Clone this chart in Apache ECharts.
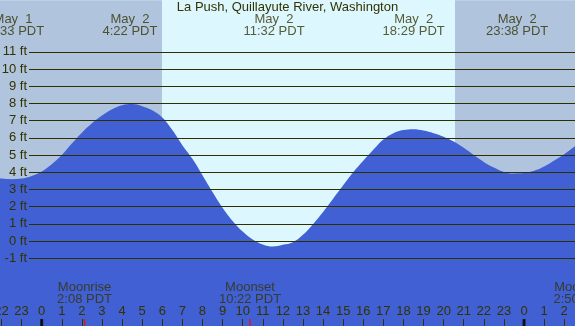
<!DOCTYPE html>
<html>
<head>
<meta charset="utf-8">
<script src="https://cdn.jsdelivr.net/npm/echarts@6/dist/echarts.min.js"></script>
<style>
html,body{margin:0;padding:0;background:#ddf7ff;}
#chart{width:575px;height:326px;}
</style>
</head>
<body>
<div id="chart"></div>
<script>
// ---- data (hours measured from May 2 00:00 PDT, read every half hour) ----
const titleText = 'La Push, Quillayute River, Washington';
const tideHours = [-3, -2.5, -2, -1.5, -1, -0.5, 0, 0.5, 1, 1.5, 2, 2.5, 3, 3.5, 4, 4.5, 5, 5.5, 6, 6.5, 7, 7.5, 8, 8.5, 9, 9.5, 10, 10.5, 11, 11.5, 12, 12.5, 13, 13.5, 14, 14.5, 15, 15.5, 16, 16.5, 17, 17.5, 18, 18.5, 19, 19.5, 20, 20.5, 21, 21.5, 22, 22.5, 23, 23.5, 24, 24.5, 25, 25.5, 26, 26.5, 27];
const tideFeet  = [3.85, 3.72, 3.63, 3.6, 3.63, 3.78, 4.05, 4.47, 5.0, 5.67, 6.3, 6.85, 7.3, 7.66, 7.9, 7.96, 7.84, 7.6, 7.18, 6.45, 5.57, 4.78, 3.83, 2.85, 1.94, 1.17, 0.55, 0.09, -0.2, -0.32, -0.22, -0.07, 0.36, 0.98, 1.69, 2.46, 3.24, 4.0, 4.67, 5.3, 5.9, 6.27, 6.45, 6.5, 6.42, 6.27, 6.07, 5.78, 5.42, 5.0, 4.6, 4.27, 4.02, 3.93, 3.95, 4.08, 4.33, 4.68, 5.05, 5.48, 5.9];
const tideEventDays  = [1, 2, 2, 2, 2];
const tideEventTimes = ['22:33', '4:22', '11:32', '18:29', '23:38'];
const moonEventNames = ['Moonrise', 'Moonset', 'Moonrise'];
const moonEventDays  = [2, 2, 3];
const moonEventTimes = ['2:08', '10:22', '2:50'];
const sunriseTime = '5:59';
const sunsetTime  = '20:34';
const midnightHours = [0, 24];
const yTicksFt = [-1, 11];
const xRangeHours = [-3, 27];

function toHours(day, t) {
  const p = t.split(':');
  return (day - 2) * 24 + Number(p[0]) + Number(p[1]) / 60;
}
const tideEventHours = tideEventTimes.map((t, i) => toHours(tideEventDays[i], t));
const moonEventHours = moonEventTimes.map((t, i) => toHours(moonEventDays[i], t));
const sunriseH = toHours(2, sunriseTime);
const sunsetH = toHours(2, sunsetTime);

const TEXT = '#333300';
const FONT = '"Liberation Sans", Arial, sans-serif';
const WATER = '#4160d4';
const NIGHT = '#b0c4de';
const DAY = '#ddf7ff';

const chart = echarts.init(document.getElementById('chart'), null, {renderer: 'canvas'});
const option = {
  backgroundColor: DAY,
  animation: false,
  textStyle: {fontFamily: FONT},
  title: {
    text: titleText, left: 'center', top: 1, padding: 0,
    textStyle: {fontFamily: FONT, fontSize: 13, fontWeight: 'normal', color: TEXT}
  },
  grid: [
    {left: -18.59, right: -9.3, top: 0.18, bottom: -1.1, containLabel: false, outerBoundsMode: 'none'},
    {left: 29, right: 0, top: 51.8, bottom: 67.7, containLabel: false, outerBoundsMode: 'none'}
  ],
  xAxis: [
    {
      type: 'value', gridIndex: 0, min: xRangeHours[0], max: xRangeHours[1], interval: 1, z: 5,
      position: 'bottom',
      axisLine: {show: false, onZero: false},
      axisTick: {show: true, inside: true, length: 8, lineStyle: {color: TEXT, width: 1}},
      axisLabel: {
        inside: true, margin: 9, color: TEXT, fontSize: 13, fontFamily: FONT,
        showMinLabel: true, showMaxLabel: true, hideOverlap: false,
        formatter: v => String(((v % 24) + 24) % 24)
      },
      splitLine: {show: false}
    },
    {type: 'value', gridIndex: 1, min: 0, max: 1, show: false, axisLine: {onZero: false}}
  ],
  yAxis: [
    {type: 'value', gridIndex: 0, min: -5, max: 14, show: false, splitLine: {show: false}, axisLine: {onZero: false}},
    {
      type: 'value', gridIndex: 1, min: yTicksFt[0], max: yTicksFt[1], interval: 1, z: 5,
      axisLine: {show: false, onZero: false}, axisTick: {show: false},
      axisLabel: {margin: 2, color: TEXT, fontSize: 13, fontFamily: FONT, formatter: v => v + ' ft'},
      splitLine: {show: true, lineStyle: {color: '#2e2e00', width: 1}}
    }
  ],
  series: [
    {
      name: 'tide', type: 'line', xAxisIndex: 0, yAxisIndex: 0,
      data: tideHours.map((h, i) => [h, tideFeet[i]]),
      smooth: 0.4, symbol: 'none', silent: true,
      lineStyle: {width: 0, opacity: 0},
      areaStyle: {color: WATER, opacity: 1, origin: 'start'},
      z: 3,
      markArea: {
        silent: true,
        itemStyle: {color: NIGHT, opacity: 1},
        data: [
          [{xAxis: xRangeHours[0]}, {xAxis: sunriseH}],
          [{xAxis: sunsetH}, {xAxis: xRangeHours[1]}]
        ]
      }
    },
    {
      name: 'midnight', type: 'scatter', xAxisIndex: 0, yAxisIndex: 0, silent: true, z: 6,
      data: midnightHours.map(h => [h, -5]),
      symbol: 'rect', symbolSize: [3, 8], symbolOffset: [0, -4],
      itemStyle: {color: '#000000'}
    },
    {
      name: 'moonTicks', type: 'scatter', xAxisIndex: 0, yAxisIndex: 0, silent: true, z: 6,
      data: moonEventHours.map(h => [h, -5]),
      symbol: 'rect', symbolSize: [1.5, 8], symbolOffset: [0, -4],
      itemStyle: {color: '#ff0000'}
    },
    {
      name: 'tideLabels', type: 'scatter', xAxisIndex: 0, yAxisIndex: 0, silent: true, z: 6,
      data: tideEventHours.map(h => [h, 14]),
      symbolSize: 1, itemStyle: {color: 'rgba(0,0,0,0)'},
      label: {
        show: true, position: 'inside', offset: [0.5, 25.5],
        color: TEXT, fontSize: 13, lineHeight: 12, fontFamily: FONT, align: 'center',
        formatter: p => 'May  ' + tideEventDays[p.dataIndex] + '\n' + tideEventTimes[p.dataIndex] + ' PDT'
      }
    },
    {
      name: 'moonLabels', type: 'scatter', xAxisIndex: 0, yAxisIndex: 0, silent: true, z: 6,
      data: moonEventHours.map(h => [h, -5]),
      symbolSize: 1, itemStyle: {color: 'rgba(0,0,0,0)'},
      label: {
        show: true, position: 'inside', offset: [0, -33.5],
        color: TEXT, fontSize: 13, lineHeight: 12, fontFamily: FONT, align: 'center',
        formatter: p => moonEventNames[p.dataIndex] + '\n' + moonEventTimes[p.dataIndex] + ' PDT'
      }
    }
  ]
};
chart.setOption(option);
</script>
</body>
</html>
